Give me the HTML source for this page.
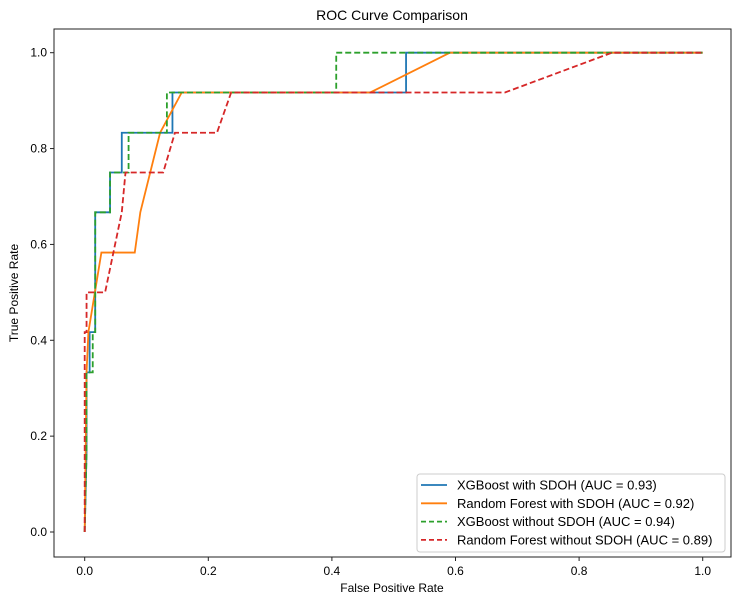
<!DOCTYPE html>
<html><head><meta charset="utf-8"><style>
body{margin:0;background:#fff;}
svg{display:block;font-family:"Liberation Sans","DejaVu Sans",sans-serif;}
</style></head><body>
<svg id="chart" width="740" height="604">
<rect x="0" y="0" width="740" height="604" fill="#fff"/>
<text x="392" y="20" font-size="14" text-anchor="middle">ROC Curve Comparison</text>
<g id="plot"></g>
<rect x="54" y="29" width="677" height="528" fill="none" stroke="#222" stroke-width="1"/>
<g id="ticks"></g>
<text x="392" y="592" font-size="12" text-anchor="middle">False Positive Rate</text>
<text x="18" y="293" font-size="12" text-anchor="middle" transform="rotate(-90 18 293)">True Positive Rate</text>
<g id="legend">
<rect x="417" y="474" width="308" height="78" rx="3" fill="#fff" fill-opacity="0.85" stroke="#ccc"/>
</g>
</svg>
<script>
const xTicks=[0,0.2,0.4,0.6,0.8,1.0];
const yTicks=[0,0.2,0.4,0.6,0.8,1.0];
const seriesNames=["XGBoost with SDOH (AUC = 0.93)","Random Forest with SDOH (AUC = 0.92)","XGBoost without SDOH (AUC = 0.94)","Random Forest without SDOH (AUC = 0.89)"];
const seriesColors=["#1f77b4","#ff7f0e","#2ca02c","#d62728"];
const seriesDash=["","","6,3","6,3"];
const xgbFpr=[0,0.003,0.003,0.008,0.008,0.017,0.017,0.041,0.041,0.06,0.06,0.142,0.142,0.52,0.52,1];
const xgbTpr=[0,0.167,0.333,0.333,0.417,0.417,0.667,0.667,0.75,0.75,0.833,0.833,0.917,0.917,1,1];
const rfFpr=[0,0.003,0.006,0.027,0.081,0.09,0.122,0.157,0.462,0.591,1];
const rfTpr=[0,0.333,0.417,0.583,0.583,0.667,0.833,0.917,0.917,1,1];
const xgbNoFpr=[0,0.003,0.003,0.013,0.013,0.017,0.017,0.041,0.041,0.071,0.071,0.133,0.133,0.407,0.407,1];
const xgbNoTpr=[0,0.167,0.333,0.333,0.417,0.417,0.667,0.667,0.75,0.75,0.833,0.833,0.917,0.917,1,1];
const rfNoFpr=[0,0,0.003,0.003,0.033,0.06,0.066,0.127,0.146,0.214,0.237,0.68,0.853,1];
const rfNoTpr=[0,0.417,0.417,0.5,0.5,0.667,0.75,0.75,0.833,0.833,0.917,0.917,1,1];
const allFpr=[xgbFpr,rfFpr,xgbNoFpr,rfNoFpr];
const allTpr=[xgbTpr,rfTpr,xgbNoTpr,rfNoTpr];
const NS="http://www.w3.org/2000/svg";
function xs(v){return 84.7+v*618;}
function ys(v){return 532-v*479.3;}
const plot=document.getElementById('plot');
allFpr.forEach((f,i)=>{
  const p=document.createElementNS(NS,'polyline');
  p.setAttribute('points',f.map((v,j)=>xs(v)+','+ys(allTpr[i][j])).join(' '));
  p.setAttribute('fill','none');p.setAttribute('stroke',seriesColors[i]);p.setAttribute('stroke-width','1.8');
  if(seriesDash[i])p.setAttribute('stroke-dasharray',seriesDash[i]);
  
  
  plot.appendChild(p);
});
const tk=document.getElementById('ticks');
xTicks.forEach(v=>{
  const l=document.createElementNS(NS,'line');
  l.setAttribute('x1',xs(v));l.setAttribute('x2',xs(v));l.setAttribute('y1',557);l.setAttribute('y2',561);l.setAttribute('stroke','#222');
  
  
  tk.appendChild(l);
  const t=document.createElementNS(NS,'text');
  t.setAttribute('x',xs(v));t.setAttribute('y',575);t.setAttribute('font-size','12');t.setAttribute('text-anchor','middle');
  t.textContent=v.toFixed(1);
  
  
  tk.appendChild(t);
});
yTicks.forEach(v=>{
  const l=document.createElementNS(NS,'line');
  l.setAttribute('x1',50);l.setAttribute('x2',54);l.setAttribute('y1',ys(v));l.setAttribute('y2',ys(v));l.setAttribute('stroke','#222');
  
  
  tk.appendChild(l);
  const t=document.createElementNS(NS,'text');
  t.setAttribute('x',47);t.setAttribute('y',ys(v)+4);t.setAttribute('font-size','12');t.setAttribute('text-anchor','end');
  t.textContent=v.toFixed(1);
  
  
  tk.appendChild(t);
});
const lg=document.getElementById('legend');
seriesNames.forEach((n,i)=>{
  const y=485+i*18.3;
  const l=document.createElementNS(NS,'line');
  l.setAttribute('x1',421);l.setAttribute('x2',447);l.setAttribute('y1',y);l.setAttribute('y2',y);
  l.setAttribute('stroke',seriesColors[i]);l.setAttribute('stroke-width','1.8');
  if(seriesDash[i])l.setAttribute('stroke-dasharray','5,3');
  
  
  lg.appendChild(l);
  const t=document.createElementNS(NS,'text');
  t.setAttribute('x',457);t.setAttribute('y',y+4.5);t.setAttribute('font-size','13');
  t.textContent=n;
  
  
  lg.appendChild(t);
});
</script>
</body></html>
